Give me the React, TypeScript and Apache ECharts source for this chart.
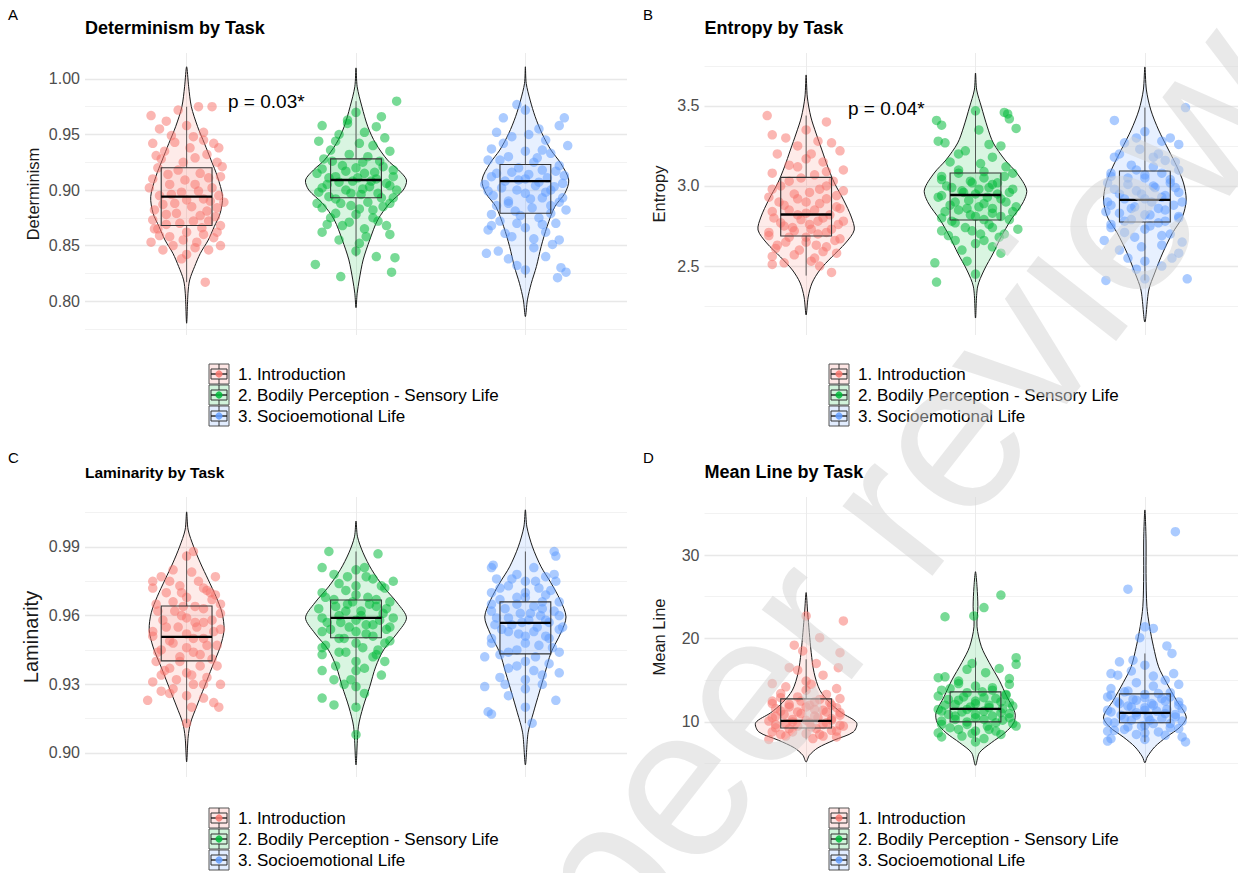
import React, { useEffect, useRef } from "react";
import * as echarts from "echarts";

const FONT = "'Liberation Sans', Arial, Helvetica, sans-serif";

const groups = ["1. Introduction", "2. Bodily Perception - Sensory Life", "3. Socioemotional Life"];
const groupColors = ["#F8766D", "#00BA38", "#619CFF"];
const xCategoryTicks = [1, 2, 3];

// ---------- Panel A: Determinism ----------
const detTicks = [0.8, 0.85, 0.9, 0.95, 1.0];
const detMinorTicks = [0.775, 0.825, 0.875, 0.925, 0.975];
const detRange = [0.7694, 1.0234];
// violin profiles: [value, half-width in category units]
const detViolinIntro = [[0.780,0],[0.807,0.008],[0.819,0.018],[0.831,0.047],[0.843,0.081],[0.855,0.128],[0.867,0.163],[0.879,0.198],[0.894,0.212],[0.912,0.182],[0.927,0.144],[0.942,0.105],[0.957,0.065],[0.975,0.028],[0.993,0.012],[1.011,0]];
const detViolinBodily = [[0.794,0],[0.807,0.007],[0.819,0.019],[0.837,0.042],[0.855,0.081],[0.873,0.128],[0.888,0.198],[0.900,0.279],[0.909,0.298],[0.918,0.251],[0.927,0.186],[0.942,0.116],[0.957,0.07],[0.975,0.035],[0.993,0.007],[1.010,0]];
const detViolinSocio = [[0.786,0],[0.801,0.012],[0.816,0.035],[0.831,0.065],[0.849,0.093],[0.867,0.128],[0.885,0.174],[0.897,0.233],[0.909,0.256],[0.924,0.209],[0.936,0.151],[0.951,0.098],[0.966,0.058],[0.981,0.028],[0.996,0.005],[1.011,0]];
// boxes: [lower whisker, q1, median, q3, upper whisker]
const detBoxIntro = [0.817, 0.868, 0.894, 0.920, 0.975];
const detBoxBodily = [0.840, 0.893, 0.909, 0.928, 0.980];
const detBoxSocio = [0.821, 0.879, 0.908, 0.923, 0.977];
// jittered points: [offset, value]
const detPtsIntro = [[-0.21,0.967],[0.15,0.975],[0.07,0.975],[-0.05,0.972],[-0.16,0.955],[0.0,0.958],[-0.09,0.949],[0.1,0.945],[0.16,0.942],[-0.2,0.942],[-0.13,0.935],[0.02,0.938],[0.12,0.932],[-0.02,0.925],[0.18,0.925],[-0.17,0.920],[-0.05,0.918],[0.08,0.915],[0.2,0.912],[-0.2,0.91],[-0.1,0.905],[0.05,0.905],[0.15,0.902],[-0.03,0.898],[0.19,0.895],[-0.16,0.895],[0.1,0.892],[-0.07,0.888],[0.03,0.885],[0.18,0.884],[-0.19,0.882],[-0.12,0.878],[0.08,0.877],[0.13,0.872],[-0.04,0.87],[0.2,0.868],[-0.17,0.865],[0.0,0.862],[0.1,0.86],[-0.1,0.858],[0.16,0.857],[-0.21,0.853],[-0.08,0.85],[0.05,0.848],[0.2,0.85],[-0.14,0.846],[0.0,0.842],[-0.03,0.838],[0.11,0.817],[-0.15,0.928],[0.14,0.89],
  [-0.18,0.931],[0.05,0.929],[0.21,0.921],[-0.11,0.914],[0.13,0.911],[-0.01,0.909],[-0.22,0.902],[0.07,0.899],[-0.09,0.896],[0.22,0.889],[0.0,0.891],[-0.14,0.887],[0.12,0.881],[-0.06,0.879],[0.17,0.876],[-0.2,0.873],[0.04,0.872],[-0.12,0.869],[0.09,0.866],[-0.02,0.855],[0.18,0.862],[-0.16,0.859],[0.06,0.853],[0.13,0.846],[-0.19,0.865],[0.1,0.952],[-0.12,0.962],[0.19,0.938],[-0.07,0.943],[0.04,0.948]];
const detPtsBodily = [[0.24,0.98],[0.0,0.97],[-0.05,0.963],[-0.2,0.958],[0.12,0.957],[0.05,0.952],[-0.1,0.95],[0.17,0.947],[-0.22,0.944],[0.02,0.942],[0.1,0.94],[-0.15,0.936],[0.2,0.935],[-0.04,0.932],[0.07,0.93],[-0.19,0.928],[0.14,0.926],[-0.08,0.922],[0.0,0.92],[0.22,0.918],[-0.23,0.915],[0.05,0.915],[-0.12,0.912],[0.12,0.91],[-0.02,0.908],[0.18,0.906],[-0.17,0.905],[0.08,0.903],[-0.06,0.9],[0.24,0.9],[-0.22,0.898],[0.03,0.896],[0.15,0.893],[-0.12,0.892],[0.2,0.888],[-0.03,0.886],[-0.2,0.884],[0.1,0.882],[0.0,0.878],[-0.15,0.875],[0.13,0.872],[-0.08,0.868],[0.05,0.865],[-0.2,0.862],[0.2,0.86],[-0.1,0.855],[0.02,0.852],[-0.24,0.833],[0.12,0.84],[0.23,0.839],[-0.09,0.822],[0.21,0.826],[0.0,0.845],
  [-0.14,0.926],[0.04,0.925],[0.16,0.921],[-0.2,0.919],[-0.06,0.917],[0.11,0.916],[0.22,0.912],[-0.16,0.911],[0.01,0.911],[0.09,0.908],[-0.1,0.907],[0.2,0.904],[-0.2,0.902],[0.04,0.901],[-0.03,0.897],[0.13,0.897],[-0.16,0.894],[0.22,0.893],[0.07,0.889],[-0.09,0.888],[0.16,0.885],[-0.23,0.888],[0.02,0.883],[-0.12,0.879],[0.1,0.875],[-0.04,0.871],[0.18,0.868],[-0.17,0.869],[0.06,0.858],[-0.05,0.96],[0.15,0.966],[-0.12,0.944]];
const detPtsSocio = [[-0.05,0.977],[0.0,0.972],[0.23,0.965],[-0.13,0.965],[0.2,0.958],[0.08,0.955],[-0.17,0.952],[-0.08,0.948],[0.12,0.945],[0.25,0.94],[-0.2,0.937],[0.0,0.935],[0.15,0.933],[-0.1,0.93],[-0.22,0.927],[0.05,0.925],[0.2,0.922],[-0.04,0.92],[0.1,0.918],[-0.17,0.915],[0.23,0.913],[0.0,0.91],[-0.12,0.908],[0.08,0.907],[-0.24,0.905],[0.17,0.903],[-0.05,0.9],[0.12,0.898],[-0.19,0.895],[0.22,0.893],[0.03,0.892],[-0.1,0.888],[0.15,0.886],[0.24,0.882],[-0.2,0.878],[-0.03,0.877],[0.08,0.875],[-0.15,0.872],[0.18,0.87],[0.0,0.866],[-0.22,0.864],[0.12,0.862],[-0.08,0.858],[0.2,0.855],[-0.16,0.845],[-0.23,0.843],[0.05,0.848],[-0.1,0.838],[0.12,0.84],[-0.05,0.832],[0.0,0.828],[0.21,0.83],[0.24,0.826],[0.19,0.821],
  [-0.15,0.927],[0.07,0.929],[0.18,0.917],[-0.08,0.916],[0.02,0.914],[-0.2,0.912],[0.13,0.911],[-0.04,0.909],[0.22,0.906],[0.06,0.904],[-0.14,0.902],[0.15,0.9],[-0.22,0.899],[0.0,0.897],[0.1,0.893],[-0.1,0.89],[0.2,0.889],[-0.17,0.886],[0.04,0.884],[-0.06,0.881],[0.15,0.879],[-0.2,0.868],[0.1,0.869],[-0.12,0.861],[0.05,0.856],[0.16,0.851],[-0.05,0.87],[0.02,0.95],[-0.13,0.942],[0.1,0.936]];

// ---------- Panel B: Entropy ----------
const entTicks = [2.5, 3.0, 3.5];
const entMinorTicks = [2.25, 2.75, 3.25, 3.75];
const entRange = [2.069, 3.831];
const entViolinIntro = [[2.194,0],[2.306,0.012],[2.394,0.035],[2.475,0.081],[2.556,0.151],[2.644,0.233],[2.725,0.284],[2.806,0.267],[2.913,0.221],[3.019,0.167],[3.119,0.128],[3.225,0.093],[3.331,0.058],[3.431,0.028],[3.556,0.007],[3.694,0]];
const entViolinBodily = [[2.175,0],[2.369,0.012],[2.475,0.051],[2.581,0.105],[2.681,0.151],[2.788,0.209],[2.894,0.279],[2.975,0.302],[3.081,0.244],[3.163,0.174],[3.269,0.105],[3.369,0.07],[3.494,0.035],[3.60,0.007],[3.706,0]];
const entViolinSocio = [[2.15,0],[2.35,0.023],[2.456,0.058],[2.581,0.105],[2.706,0.163],[2.806,0.221],[2.913,0.244],[3.019,0.228],[3.119,0.19],[3.225,0.14],[3.35,0.081],[3.475,0.035],[3.60,0.009],[3.744,0]];
const entBoxIntro = [2.44, 2.688, 2.822, 3.054, 3.44];
const entBoxBodily = [2.40, 2.788, 2.944, 3.081, 3.47];
const entBoxSocio = [2.41, 2.775, 2.913, 3.094, 3.49];
const entPtsIntro = [[-0.23,3.44],[0.12,3.40],[0.0,3.35],[-0.2,3.32],[-0.12,3.3],[0.07,3.28],[0.15,3.27],[-0.05,3.25],[0.2,3.22],[-0.17,3.2],[0.0,3.17],[0.1,3.15],[-0.1,3.13],[0.22,3.1],[-0.2,3.08],[0.05,3.07],[-0.03,3.05],[0.16,3.03],[-0.15,3.0],[0.08,2.98],[0.22,2.97],[-0.07,2.95],[-0.22,2.93],[0.12,2.92],[0.0,2.9],[-0.13,2.88],[0.18,2.87],[0.05,2.85],[-0.2,2.84],[-0.05,2.82],[0.1,2.8],[0.22,2.78],[-0.15,2.77],[0.02,2.76],[-0.08,2.74],[0.15,2.73],[-0.22,2.71],[0.07,2.7],[-0.1,2.68],[0.2,2.67],[0.0,2.65],[-0.17,2.63],[0.12,2.62],[-0.04,2.6],[0.18,2.58],[-0.2,2.56],[0.05,2.55],[-0.13,2.52],[-0.2,2.51],[0.08,2.5],[0.15,2.46],[0.03,2.53],
  [-0.1,3.03],[0.12,3.0],[-0.2,2.98],[0.02,2.96],[0.18,2.94],[-0.05,2.92],[-0.16,2.9],[0.08,2.89],[0.2,2.86],[-0.1,2.85],[0.0,2.83],[0.14,2.82],[-0.19,2.8],[-0.03,2.79],[0.07,2.78],[0.19,2.76],[-0.13,2.75],[0.03,2.73],[-0.07,2.72],[0.12,2.71],[-0.22,2.69],[0.0,2.68],[0.17,2.66],[-0.12,2.65],[0.06,2.63],[-0.18,2.61],[0.1,2.59],[-0.07,2.57],[0.03,3.2],[-0.05,3.12],[0.12,3.09]];
const entPtsBodily = [[0.0,3.47],[0.17,3.46],[0.19,3.45],[0.2,3.42],[-0.23,3.41],[-0.2,3.38],[0.24,3.36],[0.02,3.35],[-0.22,3.28],[-0.18,3.27],[0.15,3.25],[-0.06,3.22],[0.1,3.18],[-0.15,3.15],[0.03,3.14],[0.18,3.12],[-0.1,3.1],[0.22,3.08],[-0.2,3.06],[0.05,3.05],[-0.03,3.03],[0.13,3.02],[-0.17,3.0],[0.08,2.99],[-0.08,2.97],[0.2,2.96],[0.0,2.95],[-0.22,2.93],[0.15,2.92],[-0.12,2.9],[0.05,2.89],[0.24,2.87],[-0.05,2.86],[-0.18,2.84],[0.1,2.83],[0.0,2.81],[0.2,2.79],[-0.14,2.78],[0.08,2.76],[-0.06,2.74],[0.25,2.73],[-0.2,2.72],[0.03,2.7],[0.14,2.68],[-0.12,2.66],[0.0,2.64],[0.1,2.62],[-0.08,2.6],[0.15,2.58],[-0.24,2.52],[-0.05,2.53],[-0.23,2.4],[0.0,2.45],
  [-0.1,3.08],[0.05,3.09],[0.17,3.06],[-0.2,3.04],[-0.02,3.02],[0.1,3.01],[-0.14,2.99],[0.22,2.98],[0.02,2.98],[-0.07,2.96],[0.13,2.95],[-0.2,2.94],[0.07,2.93],[-0.04,2.91],[0.18,2.9],[-0.15,2.88],[0.02,2.87],[0.1,2.86],[-0.1,2.85],[0.22,2.84],[-0.03,2.82],[0.15,2.81],[-0.2,2.8],[0.05,2.79],[-0.12,2.77],[0.1,2.74],[-0.02,2.72],[0.17,2.7],[-0.16,2.69],[0.05,2.66],[-0.1,3.2],[0.08,3.26]];
const entPtsSocio = [[0.24,3.49],[-0.18,3.41],[0.0,3.34],[-0.05,3.3],[0.15,3.3],[0.1,3.28],[0.2,3.26],[-0.12,3.27],[-0.03,3.23],[0.08,3.2],[-0.18,3.18],[0.12,3.16],[-0.08,3.13],[0.05,3.12],[0.2,3.1],[-0.2,3.08],[0.0,3.07],[-0.1,3.05],[0.15,3.04],[-0.22,3.02],[0.05,3.0],[0.18,2.99],[-0.05,2.97],[-0.15,2.95],[0.1,2.93],[0.0,2.92],[0.22,2.9],[-0.2,2.88],[-0.08,2.86],[0.12,2.85],[-0.23,2.84],[0.03,2.82],[0.2,2.8],[-0.12,2.78],[0.08,2.77],[-0.2,2.74],[0.0,2.73],[0.15,2.7],[-0.24,2.66],[-0.06,2.68],[0.22,2.65],[0.1,2.63],[-0.15,2.6],[0.2,2.58],[-0.1,2.55],[0.0,2.53],[-0.05,2.48],[0.1,2.5],[-0.23,2.41],[0.0,2.42],[0.25,2.42],
  [-0.15,3.2],[0.05,3.18],[0.18,3.15],[-0.05,3.1],[0.1,3.08],[-0.2,3.06],[0.0,3.05],[0.15,3.02],[-0.1,3.01],[0.06,2.99],[-0.18,2.98],[0.2,2.96],[-0.02,2.95],[0.12,2.94],[-0.12,2.92],[0.04,2.9],[-0.22,2.9],[0.17,2.88],[-0.06,2.87],[0.08,2.86],[-0.15,2.83],[0.0,2.82],[0.2,2.81],[-0.08,2.79],[0.12,2.78],[-0.2,2.76],[0.03,2.75],[-0.12,2.71],[0.1,2.69],[-0.02,2.62],[0.16,2.55]];

// ---------- Panel C: Laminarity ----------
const lamTicks = [0.9, 0.93, 0.96, 0.99];
const lamMinorTicks = [0.915, 0.945, 0.975, 1.005];
const lamRange = [0.8895, 1.0118];
const lamViolinIntro = [[0.8961,0],[0.907,0.009],[0.9131,0.023],[0.9201,0.058],[0.9289,0.105],[0.9376,0.151],[0.9463,0.198],[0.9538,0.221],[0.9612,0.209],[0.9682,0.174],[0.9756,0.128],[0.983,0.081],[0.99,0.042],[0.9974,0.009],[1.0053,0]];
const lamViolinBodily = [[0.8948,0],[0.9114,0.014],[0.9201,0.042],[0.9289,0.081],[0.9376,0.116],[0.945,0.163],[0.9524,0.244],[0.959,0.298],[0.9655,0.244],[0.9725,0.163],[0.98,0.093],[0.9874,0.042],[0.9944,0.009],[1.0013,0]];
const lamViolinSocio = [[0.8948,0],[0.9088,0.016],[0.9175,0.047],[0.9262,0.081],[0.935,0.116],[0.9437,0.151],[0.9524,0.209],[0.9594,0.24],[0.9669,0.205],[0.9743,0.151],[0.9813,0.093],[0.99,0.042],[0.9987,0.009],[1.0062,0]];
const lamBoxIntro = [0.913, 0.9402, 0.9507, 0.9642, 0.988];
const lamBoxBodily = [0.921, 0.9503, 0.959, 0.9668, 0.988];
const lamBoxSocio = [0.913, 0.9433, 0.9568, 0.966, 0.988];
const lamPtsIntro = [[0.04,0.988],[0.0,0.986],[-0.08,0.98],[0.03,0.979],[-0.15,0.977],[0.17,0.977],[-0.2,0.975],[0.07,0.975],[-0.04,0.973],[-0.2,0.972],[0.12,0.971],[-0.12,0.97],[0.17,0.969],[0.0,0.968],[-0.08,0.966],[0.2,0.965],[0.1,0.963],[-0.17,0.962],[-0.03,0.96],[0.15,0.958],[0.05,0.957],[-0.12,0.955],[0.2,0.954],[-0.2,0.953],[0.0,0.952],[0.1,0.95],[-0.08,0.948],[0.18,0.947],[-0.15,0.945],[0.04,0.944],[-0.04,0.942],[0.15,0.941],[-0.18,0.94],[0.08,0.938],[-0.1,0.937],[0.0,0.935],[-0.15,0.934],[0.12,0.933],[0.04,0.93],[-0.08,0.928],[0.2,0.93],[-0.15,0.927],[0.0,0.925],[-0.1,0.926],[0.1,0.924],[-0.23,0.923],[0.16,0.922],[0.03,0.92],[0.19,0.92],[0.0,0.913],
  [-0.1,0.975],[0.1,0.972],[-0.03,0.97],[0.15,0.967],[-0.18,0.965],[0.05,0.964],[-0.07,0.962],[0.2,0.961],[0.0,0.959],[-0.14,0.958],[0.1,0.957],[-0.05,0.955],[0.16,0.953],[-0.2,0.951],[0.04,0.95],[-0.1,0.949],[0.12,0.947],[0.0,0.946],[-0.17,0.944],[0.08,0.943],[-0.04,0.94],[0.18,0.938],[-0.13,0.936],[0.03,0.934],[-0.06,0.932],[0.1,0.93],[-0.2,0.931],[0.06,0.955],[-0.02,0.964],[0.14,0.97]];
const lamPtsBodily = [[-0.16,0.988],[0.13,0.987],[-0.2,0.981],[0.05,0.981],[0.0,0.98],[-0.05,0.977],[0.1,0.976],[0.22,0.975],[-0.1,0.974],[0.15,0.973],[-0.2,0.97],[0.0,0.969],[0.07,0.968],[-0.13,0.967],[0.2,0.966],[-0.05,0.965],[0.12,0.964],[-0.22,0.963],[0.03,0.962],[0.16,0.961],[-0.1,0.96],[0.22,0.959],[0.0,0.958],[-0.17,0.957],[0.1,0.956],[-0.04,0.955],[0.18,0.954],[-0.2,0.953],[0.06,0.952],[-0.1,0.95],[0.2,0.949],[0.0,0.948],[-0.2,0.946],[0.13,0.945],[-0.06,0.944],[-0.2,0.943],[0.1,0.942],[0.0,0.94],[0.17,0.94],[-0.12,0.938],[0.05,0.937],[-0.2,0.936],[0.15,0.934],[-0.03,0.932],[-0.13,0.932],[0.0,0.929],[-0.2,0.924],[-0.13,0.921],[0.0,0.92],[0.0,0.908],
  [-0.13,0.978],[0.06,0.977],[0.17,0.972],[-0.06,0.971],[0.0,0.973],[-0.18,0.968],[0.12,0.967],[-0.02,0.966],[0.08,0.965],[-0.12,0.964],[0.18,0.963],[-0.06,0.962],[0.03,0.96],[-0.2,0.959],[0.14,0.958],[-0.09,0.957],[0.06,0.956],[0.2,0.955],[-0.15,0.954],[0.0,0.953],[0.1,0.951],[-0.07,0.95],[0.17,0.948],[-0.18,0.947],[0.04,0.946],[-0.1,0.944],[0.12,0.943],[0.0,0.936],[-0.07,0.93],[0.05,0.926]];
const lamPtsSocio = [[0.17,0.988],[0.18,0.986],[-0.19,0.982],[-0.2,0.981],[0.05,0.981],[-0.05,0.978],[0.17,0.978],[0.12,0.977],[-0.17,0.976],[0.0,0.975],[0.18,0.975],[-0.1,0.973],[0.08,0.972],[-0.2,0.97],[0.12,0.969],[0.0,0.968],[-0.15,0.967],[0.2,0.966],[-0.05,0.965],[0.1,0.963],[-0.2,0.962],[0.03,0.961],[0.2,0.96],[-0.1,0.959],[0.12,0.958],[-0.02,0.957],[-0.18,0.956],[0.07,0.955],[0.2,0.954],[-0.1,0.953],[0.0,0.951],[0.14,0.95],[-0.2,0.948],[0.08,0.947],[-0.05,0.945],[0.2,0.944],[-0.15,0.943],[-0.24,0.942],[0.0,0.94],[0.14,0.939],[-0.1,0.937],[0.05,0.936],[0.2,0.935],[-0.15,0.933],[0.0,0.932],[0.1,0.93],[-0.24,0.929],[0.0,0.928],[-0.1,0.925],[0.18,0.923],[-0.22,0.918],[-0.2,0.917],[0.0,0.92],[0.04,0.913],
  [-0.08,0.976],[0.06,0.975],[-0.15,0.972],[0.15,0.971],[0.0,0.97],[-0.05,0.968],[0.1,0.966],[-0.2,0.965],[0.05,0.964],[-0.12,0.963],[0.17,0.962],[-0.03,0.961],[0.09,0.96],[-0.17,0.959],[0.02,0.958],[0.14,0.957],[-0.08,0.956],[0.22,0.955],[-0.14,0.954],[0.05,0.953],[-0.04,0.952],[0.12,0.951],[-0.2,0.95],[0.0,0.948],[0.16,0.946],[-0.1,0.944],[0.06,0.942],[-0.05,0.938],[0.1,0.934],[-0.12,0.93]];

// ---------- Panel D: Mean Line ----------
const mlTicks = [10, 20, 30];
const mlMinorTicks = [5, 15, 25, 35];
const mlRange = [3.4, 36.95];
const mlViolinIntro = [[5.2,0],[6.0,0.019],[6.9,0.07],[7.8,0.163],[8.8,0.279],[9.9,0.298],[11.1,0.209],[12.3,0.14],[13.8,0.081],[15.9,0.047],[18.3,0.03],[20.7,0.019],[23.1,0.009],[25.5,0]];
const mlViolinBodily = [[4.8,0],[6.3,0.023],[7.5,0.093],[8.7,0.174],[9.9,0.226],[11.1,0.233],[13.0,0.186],[15.0,0.14],[17.1,0.081],[19.0,0.035],[21.4,0.009],[23.8,0.014],[26.2,0.009],[28.0,0]];
const mlViolinSocio = [[5.1,0],[5.8,0.014],[7.0,0.058],[8.2,0.128],[9.4,0.209],[10.6,0.244],[12.6,0.186],[14.7,0.128],[16.6,0.081],[19.0,0.051],[21.4,0.028],[23.8,0.012],[27.8,0.007],[31.8,0.007],[35.4,0]];
const mlBoxIntro = [7.9, 9.28, 10.12, 12.76, 17.5];
const mlBoxBodily = [7.6, 10.0, 11.56, 13.6, 17.7];
const mlBoxSocio = [7.6, 9.9, 11.08, 13.36, 18.2];
const mlPtsIntro = [[0.0,22.7],[0.22,22.1],[0.08,20.1],[-0.07,19.2],[-0.02,18.5],[0.2,18.3],[0.06,17.0],[0.19,16.5],[-0.05,16.2],[0.1,15.6],[-0.2,14.6],[0.03,14.5],[-0.12,14.2],[0.18,14.0],[0.0,13.8],[-0.15,13.4],[0.12,13.3],[-0.05,13.0],[0.2,12.8],[-0.2,12.5],[0.05,12.4],[-0.1,12.1],[0.15,12.0],[0.0,11.8],[-0.18,11.6],[0.1,11.4],[-0.05,11.2],[0.2,11.1],[-0.13,10.9],[0.05,10.7],[-0.2,10.5],[0.15,10.4],[0.0,10.2],[-0.08,10.0],[0.12,9.9],[-0.18,9.7],[0.2,9.6],[0.03,9.4],[-0.1,9.2],[0.15,9.0],[-0.2,8.8],[0.0,8.6],[0.08,8.5],[-0.12,8.3],[0.18,8.2],[-0.22,7.9],[0.04,8.0],
  [-0.15,12.9],[0.08,12.7],[-0.03,12.5],[0.14,12.3],[-0.2,12.2],[0.02,12.0],[-0.1,11.8],[0.18,11.7],[0.05,11.5],[-0.15,11.3],[0.12,11.2],[-0.03,11.0],[0.2,10.8],[-0.18,10.7],[0.07,10.5],[-0.08,10.3],[0.15,10.2],[-0.22,10.1],[0.02,9.9],[-0.12,9.8],[0.1,9.7],[0.22,9.5],[-0.05,9.5],[-0.18,9.3],[0.06,9.2],[0.18,8.9],[-0.08,8.8],[0.1,8.3],[-0.15,8.5],[0.0,14.9],[-0.1,16.5]];
const mlPtsBodily = [[0.15,25.2],[0.05,23.7],[-0.01,22.7],[-0.18,22.6],[0.24,17.7],[0.24,16.9],[-0.02,17.0],[-0.18,15.4],[-0.22,15.3],[0.14,16.4],[0.06,15.9],[-0.1,14.9],[0.2,14.5],[0.0,14.3],[-0.15,14.0],[0.1,13.8],[-0.05,13.5],[0.18,13.3],[-0.22,13.1],[0.05,12.9],[-0.1,12.6],[0.15,12.4],[0.0,12.2],[-0.18,12.0],[0.22,11.9],[0.08,11.7],[-0.05,11.5],[-0.2,11.3],[0.15,11.1],[0.0,10.9],[-0.12,10.7],[0.2,10.5],[0.05,10.3],[-0.2,10.1],[0.12,9.9],[-0.05,9.7],[0.24,9.5],[-0.15,9.3],[0.08,9.1],[0.0,8.9],[-0.22,8.7],[0.15,8.5],[-0.08,8.3],[0.05,8.0],[-0.2,8.2],[0.0,7.6],
  [-0.1,14.6],[0.1,14.1],[-0.2,13.8],[0.04,13.6],[0.18,13.2],[-0.07,13.0],[0.12,12.8],[-0.16,12.7],[0.0,12.5],[0.2,12.3],[-0.12,12.1],[0.08,12.0],[-0.03,11.8],[0.16,11.6],[-0.22,11.5],[0.05,11.3],[-0.08,11.2],[0.2,11.0],[-0.16,10.9],[0.1,10.7],[0.0,10.5],[-0.12,10.3],[0.16,10.2],[-0.05,10.0],[0.22,9.8],[-0.2,9.7],[0.07,9.5],[-0.1,9.1],[0.12,8.9],[-0.02,8.6],[0.2,15.2],[-0.05,16.3]];
const mlPtsSocio = [[0.18,32.8],[-0.1,25.9],[0.0,21.4],[0.05,21.2],[-0.03,20.1],[0.13,19.1],[0.16,18.2],[-0.15,17.2],[-0.07,17.4],[0.0,16.8],[0.17,15.8],[-0.2,15.8],[-0.16,15.6],[0.12,15.0],[-0.05,14.7],[0.2,14.5],[0.05,14.3],[-0.2,14.0],[-0.1,13.7],[0.15,13.5],[0.0,13.3],[-0.22,13.0],[0.1,12.8],[-0.05,12.6],[0.2,12.4],[-0.15,12.2],[0.05,12.0],[-0.08,11.8],[0.22,11.6],[0.0,11.4],[-0.2,11.2],[0.12,11.0],[-0.05,10.8],[0.18,10.6],[-0.12,10.4],[0.03,10.2],[-0.22,10.0],[0.15,9.8],[0.0,9.6],[-0.1,9.4],[0.2,9.2],[-0.18,9.0],[0.08,8.8],[-0.05,8.5],[0.22,8.2],[-0.2,8.0],[0.0,7.9],[-0.22,7.7],[0.24,7.6],
  [-0.12,13.6],[0.08,13.4],[-0.2,13.2],[0.15,13.0],[0.0,12.9],[-0.07,12.7],[0.12,12.5],[-0.16,12.4],[0.04,12.2],[0.2,12.0],[-0.1,11.9],[0.0,11.7],[0.13,11.5],[-0.22,11.4],[0.07,11.3],[-0.05,11.1],[0.18,10.9],[-0.14,10.8],[0.02,10.6],[0.1,10.4],[-0.08,10.2],[0.22,10.1],[-0.18,9.9],[0.05,9.8],[-0.02,9.5],[0.15,9.3],[-0.12,9.1],[0.0,8.7],[0.12,8.4],[-0.22,8.9],[0.05,15.5],[-0.08,16.1]];

const BOX_HALF = 0.15;

function rgba(hex: string, a: number) {
  const n = parseInt(hex.slice(1), 16);
  return `rgba(${(n >> 16) & 255},${(n >> 8) & 255},${n & 255},${a})`;
}

const panels = [
  {
    letter: "A", title: "Determinism by Task", yName: "Determinism", range: detRange,
    ticks: detTicks, minorTicks: detMinorTicks, decimals: 2,
    violins: [detViolinIntro, detViolinBodily, detViolinSocio],
    boxes: [detBoxIntro, detBoxBodily, detBoxSocio],
    points: [detPtsIntro, detPtsBodily, detPtsSocio],
    pLabel: "p = 0.03*",
    lay: { left: 85, top: 53, width: 542, height: 282, titleTop: 19, titleSize: 18, nameSize: 16.5, nameGap: 44, letterX: 8, letterY: 14, pX: 228, pY: 101, legX: 209, legTop: 364 },
  },
  {
    letter: "B", title: "Entropy by Task", yName: "Entropy", range: entRange,
    ticks: entTicks, minorTicks: entMinorTicks, decimals: 1,
    violins: [entViolinIntro, entViolinBodily, entViolinSocio],
    boxes: [entBoxIntro, entBoxBodily, entBoxSocio],
    points: [entPtsIntro, entPtsBodily, entPtsSocio],
    pLabel: "p = 0.04*",
    lay: { left: 704.5, top: 53, width: 542, height: 282, titleTop: 19, titleSize: 18, nameSize: 16.5, nameGap: 37, letterX: 643, letterY: 14, pX: 848, pY: 108, legX: 829, legTop: 364 },
  },
  {
    letter: "C", title: "Laminarity by Task", yName: "Laminarity", range: lamRange,
    ticks: lamTicks, minorTicks: lamMinorTicks, decimals: 2,
    violins: [lamViolinIntro, lamViolinBodily, lamViolinSocio],
    boxes: [lamBoxIntro, lamBoxBodily, lamBoxSocio],
    points: [lamPtsIntro, lamPtsBodily, lamPtsSocio],
    pLabel: "",
    lay: { left: 85, top: 497, width: 542, height: 280, titleTop: 464, titleSize: 15.5, nameSize: 20, nameGap: 44, letterX: 8, letterY: 457, pX: 0, pY: 0, legX: 209, legTop: 808 },
  },
  {
    letter: "D", title: "Mean Line by Task", yName: "Mean Line", range: mlRange,
    ticks: mlTicks, minorTicks: mlMinorTicks, decimals: 0,
    violins: [mlViolinIntro, mlViolinBodily, mlViolinSocio],
    boxes: [mlBoxIntro, mlBoxBodily, mlBoxSocio],
    points: [mlPtsIntro, mlPtsBodily, mlPtsSocio],
    pLabel: "",
    lay: { left: 704.5, top: 497, width: 542, height: 280, titleTop: 463, titleSize: 18, nameSize: 16.5, nameGap: 37, letterX: 643, letterY: 457, pX: 0, pY: 0, legX: 829, legTop: 808 },
  },
];

function legendElements(x0: number, top: number) {
  const els: any[] = [];
  groups.forEach((label, g) => {
    const y = top + g * 21;
    const c = groupColors[g];
    els.push(
      { type: "rect", z: 10, shape: { x: x0, y, width: 20, height: 20 }, style: { fill: rgba(c, 0.18), stroke: "#555", lineWidth: 1 } },
      { type: "rect", z: 10, shape: { x: x0 + 2, y: y + 5, width: 16, height: 10 }, style: { fill: "none", stroke: "#333", lineWidth: 1 } },
      { type: "line", z: 10, shape: { x1: x0 + 10, y1: y, x2: x0 + 10, y2: y + 5 }, style: { stroke: "#333", lineWidth: 1 } },
      { type: "line", z: 10, shape: { x1: x0 + 10, y1: y + 15, x2: x0 + 10, y2: y + 20 }, style: { stroke: "#333", lineWidth: 1 } },
      { type: "line", z: 10, shape: { x1: x0 + 2, y1: y + 10, x2: x0 + 18, y2: y + 10 }, style: { stroke: "#111", lineWidth: 1.3 } },
      { type: "circle", z: 10, shape: { cx: x0 + 10, cy: y + 10, r: 3.6 }, style: { fill: rgba(c, 0.85) } },
      {
        type: "text", z: 10, x: x0 + 29, y: y + 10,
        style: { text: label, fontSize: 17, fontFamily: FONT, fill: "#000", textAlign: "left", textVerticalAlign: "middle", align: "left", verticalAlign: "middle" },
      }
    );
  });
  return els;
}

function buildOption() {
  const grid: any[] = [];
  const xAxis: any[] = [];
  const yAxis: any[] = [];
  const series: any[] = [];
  const title: any[] = [];
  const graphic: any[] = [];

  panels.forEach((p, i) => {
    const L = p.lay;
    grid.push({ left: L.left, top: L.top, width: L.width, height: L.height, containLabel: false, outerBoundsMode: "none" });
    xAxis.push({
      gridIndex: i, type: "value", min: 0.4, max: 3.6,
      axisLine: { show: false },
      axisTick: { show: false, customValues: xCategoryTicks },
      axisLabel: { show: false, customValues: xCategoryTicks },
      splitLine: { show: true, lineStyle: { color: "#ebebeb", width: 1 } },
    });
    yAxis.push({
      gridIndex: i, type: "value", min: p.range[0], max: p.range[1], position: "left",
      axisLine: { show: false },
      axisTick: { show: false, customValues: p.ticks },
      axisLabel: {
        customValues: p.ticks, color: "#4d4d4d", fontSize: 16, fontFamily: FONT, margin: 5,
        formatter: (v: number) => Number(v).toFixed(p.decimals),
      },
      splitLine: { show: true, lineStyle: { color: "#e8e8e8", width: 1.3 } },
      name: p.yName, nameLocation: "middle", nameRotate: 90, nameGap: L.nameGap,
      nameTextStyle: { fontSize: L.nameSize, color: "#1a1a1a", fontFamily: FONT },
    });
    yAxis.push({
      gridIndex: i, type: "value", min: p.range[0], max: p.range[1], position: "left",
      axisLine: { show: false },
      axisTick: { show: false, customValues: p.minorTicks },
      axisLabel: { show: false, customValues: p.minorTicks },
      splitLine: { show: true, lineStyle: { color: "#f2f2f2", width: 1 } },
    });

    title.push({
      text: p.title, left: L.left, top: L.titleTop, padding: 0,
      textStyle: { fontSize: L.titleSize, fontWeight: "bold", color: "#000", fontFamily: FONT },
    });

    graphic.push({
      type: "text", z: 10, x: L.letterX, y: L.letterY,
      style: { text: p.letter, fontSize: 15, fontFamily: FONT, fill: "#000", textAlign: "left", textVerticalAlign: "middle", align: "left", verticalAlign: "middle" },
    });
    if (p.pLabel) {
      graphic.push({
        type: "text", z: 10, x: L.pX, y: L.pY,
        style: { text: p.pLabel, fontSize: 19, fontFamily: FONT, fill: "#000", textAlign: "left", textVerticalAlign: "middle", align: "left", verticalAlign: "middle" },
      });
    }
    graphic.push(...legendElements(L.legX, L.legTop));

    // violins
    series.push({
      type: "custom", name: p.letter + " violin", xAxisIndex: i, yAxisIndex: 2 * i, z: 2, silent: true, clip: false,
      data: p.boxes.map((b, g) => [g + 1, b[2]]),
      renderItem: (params: any, api: any) => {
        const g = params.dataIndex;
        const prof = p.violins[g];
        const cx = g + 1;
        const left = prof.map(([v, w]) => api.coord([cx - w, v]));
        const right = prof.slice(1, -1).reverse().map(([v, w]) => api.coord([cx + w, v]));
        return {
          type: "polygon",
          shape: { points: left.concat(right), smooth: 0.3 },
          style: { fill: rgba(groupColors[g], 0.15), stroke: "#1a1a1a", lineWidth: 1 },
        };
      },
    });

    // points
    p.points.forEach((pts, g) => {
      series.push({
        type: "scatter", name: p.letter + " " + groups[g], xAxisIndex: i, yAxisIndex: 2 * i, z: 3, silent: true,
        symbol: "circle", symbolSize: 9.5,
        itemStyle: { color: rgba(groupColors[g], 0.66) },
        data: pts.map(([dx, v]) => [g + 1 + dx, v]),
      });
    });

    // boxes
    series.push({
      type: "custom", name: p.letter + " box", xAxisIndex: i, yAxisIndex: 2 * i, z: 4, silent: true, clip: false,
      data: p.boxes.map((b, g) => [g + 1, b[2]]),
      renderItem: (params: any, api: any) => {
        const g = params.dataIndex;
        const [wlo, q1, med, q3, whi] = p.boxes[g];
        const cx = g + 1;
        const tl = api.coord([cx - BOX_HALF, q3]);
        const br = api.coord([cx + BOX_HALF, q1]);
        const mL = api.coord([cx - BOX_HALF, med]);
        const mR = api.coord([cx + BOX_HALF, med]);
        const a = api.coord([cx, wlo]);
        const b = api.coord([cx, q1]);
        const c = api.coord([cx, q3]);
        const d = api.coord([cx, whi]);
        return {
          type: "group",
          children: [
            { type: "line", shape: { x1: a[0], y1: a[1], x2: b[0], y2: b[1] }, style: { stroke: "#333", lineWidth: 0.8 } },
            { type: "line", shape: { x1: c[0], y1: c[1], x2: d[0], y2: d[1] }, style: { stroke: "#333", lineWidth: 0.8 } },
            { type: "rect", shape: { x: tl[0], y: tl[1], width: br[0] - tl[0], height: br[1] - tl[1] }, style: { fill: rgba(groupColors[g], 0.12), stroke: "#333", lineWidth: 1.1 } },
            { type: "line", shape: { x1: mL[0], y1: mL[1], x2: mR[0], y2: mR[1] }, style: { stroke: "#000", lineWidth: 2.4 } },
          ],
        };
      },
    });
  });

  // watermark, drawn over everything with partial transparency
  graphic.push({
    type: "text", x: 905, y: 490, rotation: 0.907, z: 100, silent: true,
    style: { text: "peer review", fontSize: 215, fontFamily: FONT, fill: "rgba(212,212,212,0.5)", textAlign: "center", textVerticalAlign: "middle", align: "center", verticalAlign: "middle" },
  });

  return {
    animation: false,
    backgroundColor: "#ffffff",
    textStyle: { fontFamily: FONT },
    title, grid, xAxis, yAxis, series, graphic,
  };
}

export default function App() {
  const ref = useRef<HTMLDivElement>(null);
  useEffect(() => {
    if (!ref.current) return;
    const chart = echarts.init(ref.current, null, { renderer: "svg" });
    chart.setOption(buildOption() as any);
    return () => chart.dispose();
  }, []);
  return <div ref={ref} style={{ position: "fixed", left: 0, top: 0, width: 1238, height: 873, background: "#fff" }} />;
}
